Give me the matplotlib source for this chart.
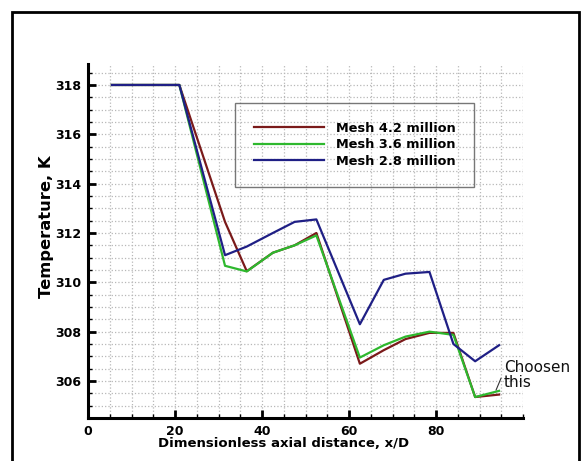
import matplotlib
matplotlib.use("Agg")
import matplotlib.pyplot as plt
from matplotlib.ticker import MultipleLocator, FixedLocator
from matplotlib.patches import Rectangle

plt.rcParams['font.family'] = ['DejaVu Sans']

x_d = [5.5, 21, 31.5, 36.5, 42.5, 47.5, 52.5, 62.5, 68, 73, 78.5, 84, 89, 94.5]
temp_42 = [318, 318, 312.45, 310.45, 311.2, 311.5, 312.0, 306.7, 307.25, 307.7, 307.95, 307.95, 305.35, 305.45]
temp_36 = [318, 318, 310.67, 310.44, 311.2, 311.5, 311.9, 306.95, 307.45, 307.8, 308.0, 307.87, 305.35, 305.6]
temp_28 = [318, 318, 311.1, 311.45, 312.0, 312.45, 312.55, 308.3, 310.1, 310.35, 310.42, 307.5, 306.8, 307.45]
labels = ["Mesh 4.2 million", "Mesh 3.6 million", "Mesh 2.8 million"]
colors = ["#7a1a1a", "#2eb82e", "#1f1f85"]
x_ticks = [0, 20, 40, 60, 80]

fig = plt.figure(figsize=(5.86, 4.61), dpi=100)
W, H = 586, 461
ax = fig.add_axes([88 / W, 1 - 418 / H, (523 - 88) / W, (418 - 64) / H])

for ys, lab, c in zip([temp_42, temp_36, temp_28], labels, colors):
    ax.plot(x_d, ys, color=c, lw=1.6, label=lab)

ax.set_xlim(0, 100)
ax.set_ylim(304.5, 318.85)
ax.xaxis.set_major_locator(FixedLocator(x_ticks))
ax.xaxis.set_minor_locator(MultipleLocator(5))
ax.yaxis.set_major_locator(MultipleLocator(2))
ax.yaxis.set_minor_locator(MultipleLocator(0.5))
ax.grid(True, which='both', color='#b8b8b8', linestyle=':', linewidth=0.9)
ax.set_axisbelow(True)

for s in ['top', 'right']:
    ax.spines[s].set_visible(False)
for s in ['left', 'bottom']:
    ax.spines[s].set_linewidth(2.2)
ax.tick_params(which='major', direction='in', length=6, width=2, labelsize=9, pad=5)
ax.tick_params(which='minor', direction='in', length=3, width=1)
for t in ax.get_xticklabels() + ax.get_yticklabels():
    t.set_fontweight('bold')

ax.set_xlabel("Dimensionless axial distance, x/D", fontsize=9.5, fontweight='bold')
ax.xaxis.set_label_coords(0.45, -0.055)
ax.set_ylabel("Temperature, K", fontsize=11.8, fontweight='bold')
ax.yaxis.set_label_coords(-0.079, 0.54)

leg = ax.legend(loc='upper left', bbox_to_anchor=(0.338, 0.89),
                prop={'weight': 'bold', 'size': 9.3},
                frameon=True, fancybox=False, borderpad=1.45,
                handlelength=5.4, handletextpad=0.95, labelspacing=0.28,
                borderaxespad=0)
leg.get_frame().set_facecolor('none')
leg.get_frame().set_edgecolor('#555555')
leg.get_frame().set_linewidth(1.0)

ax.annotate("Choosen\nthis", xy=(93.8, 305.63), xytext=(95.6, 306.24),
            fontsize=11, ha='left', va='center', color='#111111',
            linespacing=1.0,
            arrowprops=dict(arrowstyle='-', color='#333333', lw=0.8,
                            shrinkA=0, shrinkB=0, relpos=(0, 0.62)))

fig.patches.append(Rectangle((12 / W, -0.05), (579 - 12) / W, 1 - 12 / H + 0.05,
                             transform=fig.transFigure, fill=False,
                             edgecolor='black', linewidth=2))

fig.savefig("out.png", dpi=100)
